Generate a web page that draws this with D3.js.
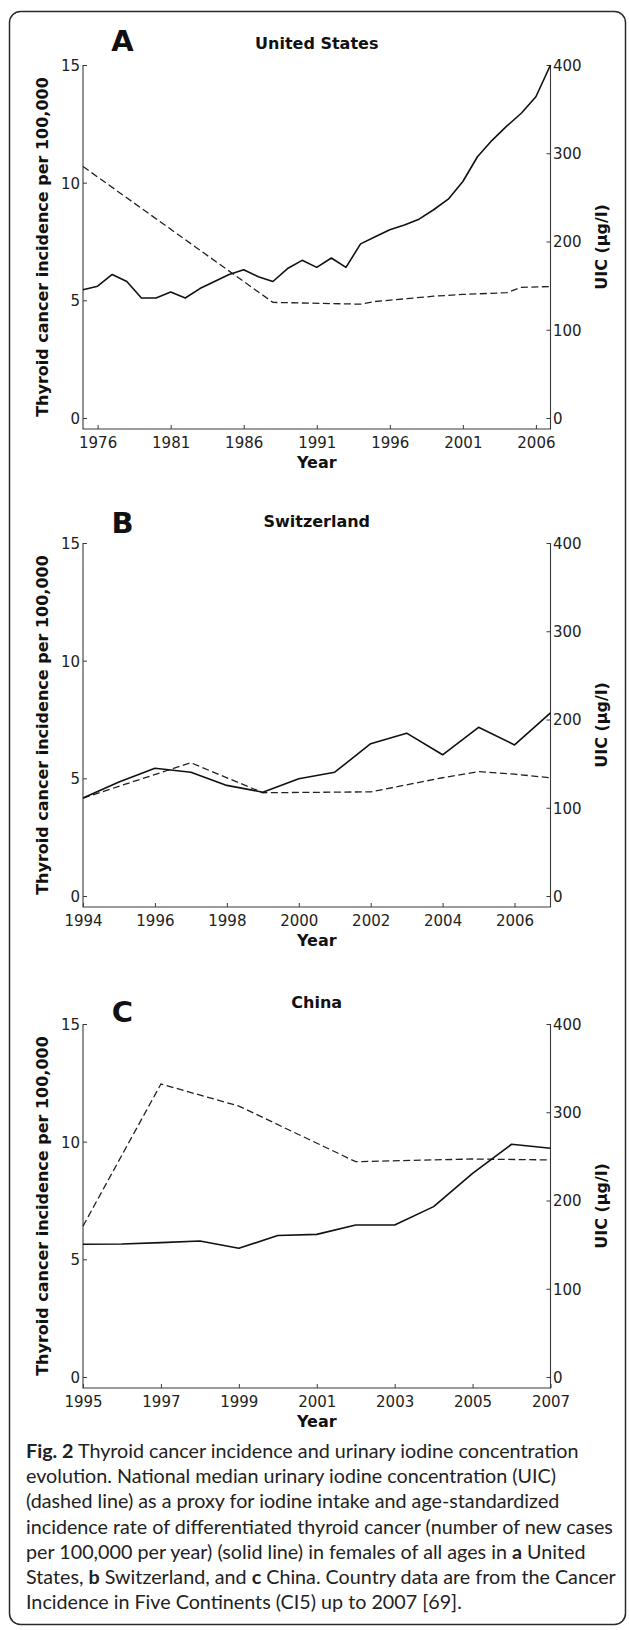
<!DOCTYPE html>
<html>
<head>
<meta charset="utf-8">
<script src="https://cdn.jsdelivr.net/npm/d3@7"></script>
<style>
  body { margin: 0; background: #fff; }
  svg { display: block; }
</style>
</head>
<body>
<script>
// ---- data ----
// A: United States
const usYears = [1975, 1976, 1977, 1978, 1979, 1980, 1981, 1982, 1983, 1984, 1985, 1986, 1987,
  1988, 1989, 1990, 1991, 1992, 1993, 1994, 1995, 1996, 1997, 1998, 1999, 2000, 2001, 2002,
  2003, 2004, 2005, 2006, 2007];
const usIncidence = [5.45, 5.6, 6.1, 5.8, 5.1, 5.1, 5.35, 5.1, 5.5, 5.8, 6.1, 6.3, 6.0,
  5.8, 6.35, 6.7, 6.4, 6.8, 6.4, 7.4, 7.7, 8.0, 8.2, 8.45, 8.85, 9.3, 10.05, 11.1,
  11.8, 12.4, 12.95, 13.65, 15.0];
const usUicYears = [1975, 1988, 1994, 1995, 1997, 1999, 2001, 2004, 2005, 2007];
const usUic = [285, 131, 129, 132, 135, 138, 140, 142, 148, 149];

// B: Switzerland
const chYears = [1994, 1995, 1996, 1997, 1998, 1999, 2000, 2001, 2002, 2003, 2004, 2005, 2006, 2007];
const chIncidence = [4.16, 4.84, 5.43, 5.26, 4.7, 4.41, 4.98, 5.26, 6.47, 6.92, 6.0, 7.17, 6.42, 7.78];
const chUicYears = [1994, 1997, 1999, 2002, 2003, 2004, 2005, 2006, 2007];
const chUic = [111, 151, 117, 118, 126, 134, 141, 138, 134];

// C: China
const cnYears = [1995, 1996, 1997, 1998, 1999, 2000, 2001, 2002, 2003, 2004, 2005, 2006, 2007];
const cnIncidence = [5.64, 5.65, 5.71, 5.78, 5.47, 6.01, 6.06, 6.46, 6.46, 7.24, 8.65, 9.89, 9.72];
const cnUicYears = [1995, 1997, 1999, 2002, 2005, 2007];
const cnUic = [171, 332, 307, 244, 247, 246];

const incidenceTicks = [0, 5, 10, 15];
const uicTicks = [0, 100, 200, 300, 400];
const usTicks = [1976, 1981, 1986, 1991, 1996, 2001, 2006];
const chTicks = [1994, 1996, 1998, 2000, 2002, 2004, 2006];
const cnTicks = [1995, 1997, 1999, 2001, 2003, 2005, 2007];

const captionLines = [
  [["Fig. 2", true], [" Thyroid cancer incidence and urinary iodine concentration", false]],
  [["evolution. National median urinary iodine concentration (UIC)", false]],
  [["(dashed line) as a proxy for iodine intake and age-standardized", false]],
  [["incidence rate of differentiated thyroid cancer (number of new cases", false]],
  [["per 100,000 per year) (solid line) in females of all ages in ", false], ["a", true], [" United", false]],
  [["States, ", false], ["b", true], [" Switzerland, and ", false], ["c", true], [" China. Country data are from the Cancer", false]],
  [["Incidence in Five Continents (CI5) up to 2007 [69].", false]]
];

// ---- drawing ----
const width = 629, height = 1630;
const font = "'DejaVu Sans', sans-serif";
const axisColor = "#3a3a3a";

const svg = d3.select("body").append("svg")
    .attr("width", width)
    .attr("height", height);

// rounded frame
svg.append("rect")
    .attr("x", 9.5).attr("y", 11.5)
    .attr("width", 616).attr("height", 1613)
    .attr("rx", 11)
    .attr("fill", "none")
    .attr("stroke", "#2a2a2a")
    .attr("stroke-width", 1.5);

const panels = [
  { letter: "A", title: "United States", top: 65, xDomain: [1975, 2007], xTicks: usTicks,
    years: usYears, inc: usIncidence, uicYears: usUicYears, uic: usUic, letterY: 51 },
  { letter: "B", title: "Switzerland", top: 543, xDomain: [1994, 2007], xTicks: chTicks,
    years: chYears, inc: chIncidence, uicYears: chUicYears, uic: chUic, letterY: 533 },
  { letter: "C", title: "China", top: 1024, xDomain: [1995, 2007], xTicks: cnTicks,
    years: cnYears, inc: cnIncidence, uicYears: cnUicYears, uic: cnUic, letterY: 1022 }
];

const left = 83, right = 550.5;

panels.forEach(p => {
  const zeroY = p.top + 353;
  const axisY = p.top + 364;
  const x = d3.scaleLinear().domain(p.xDomain).range([left, right]);
  const yL = d3.scaleLinear().domain([0, 15]).range([zeroY, p.top]);
  const yR = d3.scaleLinear().domain([0, 400]).range([zeroY, p.top]);
  const g = svg.append("g");

  // left axis (ticks inward)
  const ax = g.append("g")
      .attr("transform", "translate(" + left + ",0)")
      .call(d3.axisLeft(yL).tickValues(incidenceTicks).tickSizeInner(-4).tickSizeOuter(0).tickPadding(3));
  // right axis
  const ar = g.append("g")
      .attr("transform", "translate(" + right + ",0)")
      .call(d3.axisRight(yR).tickValues(uicTicks).tickSizeInner(-4).tickSizeOuter(0).tickPadding(2.5));
  // bottom axis
  const ab = g.append("g")
      .attr("transform", "translate(0," + axisY + ")")
      .call(d3.axisBottom(x).tickValues(p.xTicks).tickFormat(d3.format("d"))
        .tickSizeInner(-4).tickSizeOuter(0).tickPadding(8));

  [ax, ar, ab].forEach(a => {
    a.select(".domain").remove();
    a.attr("font-family", font).attr("font-size", 15).attr("color", axisColor);
    a.selectAll("text").attr("fill", "#222");
  });
  ax.selectAll("text").attr("dy", "0.36em");
  ar.selectAll("text").attr("dy", "0.36em");

  // axis lines: left, right, bottom (no top)
  g.append("path")
      .attr("d", "M" + left + "," + p.top + "V" + axisY + "H" + right + "V" + p.top)
      .attr("fill", "none")
      .attr("stroke", axisColor)
      .attr("stroke-width", 1.1);

  // UIC (dashed)
  const uicData = p.uicYears.map((yr, i) => [yr, p.uic[i]]);
  g.append("path")
      .datum(uicData)
      .attr("d", d3.line().x(d => x(d[0])).y(d => yR(d[1])))
      .attr("fill", "none")
      .attr("stroke", "#222")
      .attr("stroke-width", 1.3)
      .attr("stroke-dasharray", "7,3.5");

  // incidence (solid)
  const incData = p.years.map((yr, i) => [yr, p.inc[i]]);
  g.append("path")
      .datum(incData)
      .attr("d", d3.line().x(d => x(d[0])).y(d => yL(d[1])))
      .attr("fill", "none")
      .attr("stroke", "#111")
      .attr("stroke-width", 1.6)
      .attr("stroke-linejoin", "round");

  // titles and labels
  g.append("text")
      .attr("x", (left + right) / 2).attr("y", p.top - 16)
      .attr("text-anchor", "middle")
      .attr("font-family", font).attr("font-weight", "bold").attr("font-size", 16)
      .attr("fill", "#111")
      .text(p.title);

  g.append("text")
      .attr("x", 122.5).attr("y", p.letterY)
      .attr("text-anchor", "middle")
      .attr("font-family", font).attr("font-weight", "bold").attr("font-size", 29)
      .attr("fill", "#111")
      .text(p.letter);

  g.append("text")
      .attr("x", (left + right) / 2).attr("y", axisY + 39)
      .attr("text-anchor", "middle")
      .attr("font-family", font).attr("font-weight", "bold").attr("font-size", 16)
      .attr("fill", "#111")
      .text("Year");

  const midY = (p.top + axisY) / 2;
  g.append("text")
      .attr("transform", "translate(48," + midY + ") rotate(-90)")
      .attr("text-anchor", "middle")
      .attr("font-family", font).attr("font-weight", "bold").attr("font-size", 16)
      .attr("fill", "#111")
      .text("Thyroid cancer incidence per 100,000");

  g.append("text")
      .attr("transform", "translate(607," + midY + ") rotate(-90)")
      .attr("text-anchor", "middle")
      .attr("font-family", font).attr("font-weight", "bold").attr("font-size", 16)
      .attr("fill", "#111")
      .text("UIC (µg/l)");
});

// caption
const cap = svg.append("g")
    .attr("font-family", "Lato, 'Open Sans', sans-serif")
    .attr("fill", "#222");

const capLines = cap.selectAll("text")
  .data(captionLines)
  .join("text")
    .attr("x", 26)
    .attr("y", (d, i) => 1458 + i * 25.2)
    .attr("font-size", 17);

capLines.selectAll("tspan")
  .data(d => d)
  .join("tspan")
    .attr("font-weight", d => d[1] ? "bold" : null)
    .text(d => d[0]);

// fit font so the longest line spans as in the figure (x 26 -> 613)
const w4 = capLines.nodes()[3].getComputedTextLength();
capLines.attr("font-size", 17 * 587 / w4);
</script>
</body>
</html>
